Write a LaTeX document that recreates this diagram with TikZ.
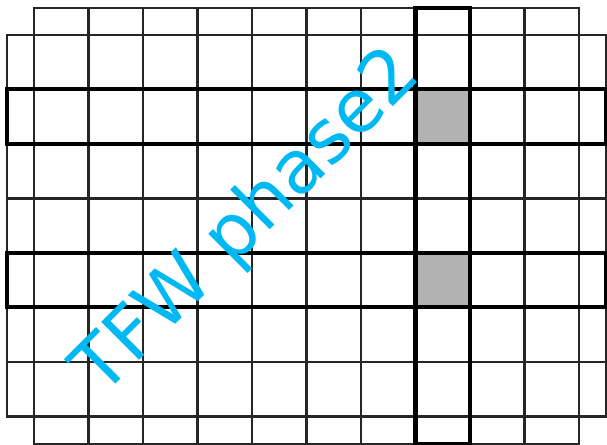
\documentclass[tikz,border=0pt]{standalone}
\usepackage{fontspec}
\setmainfont{DejaVu Sans}
\definecolor{celeste}{HTML}{00B9F2}
\begin{document}
\begin{tikzpicture}[line join=miter,
  fino/.style={draw=black!85,line width=1.1pt},
  grueso/.style={draw=black,line width=2.1pt},
  marca/.style={fill=black!30,draw=none},
  sello/.style={text=celeste,font=\fontsize{38.5}{42}\selectfont,inner sep=0pt,rotate=45,anchor=base west}]
\useasboundingbox (-0.624,-0.523) rectangle (10.514,7.642);
% celdas marcadas
\fill[marca] (7,5) rectangle (8,6);
\fill[marca] (7,2) rectangle (8,3);
% rejilla fina
\draw[fino] (0,-0.5) rectangle (10,7.5);
\draw[fino] (-0.5,0) rectangle (10.5,7);
\foreach \x in {1,...,9} \draw[fino] (\x,-0.5) -- (\x,7.5);
\foreach \y in {1,...,6} \draw[fino] (-0.5,\y) -- (10.5,\y);
% columna y filas activas
\draw[grueso] (7,-0.5) rectangle (8,7.5);
\draw[grueso] (-0.5,5) rectangle (10.5,6);
\draw[grueso] (-0.5,2) rectangle (10.5,3);
\node[sello] (tfw) at (1.25,0.34) {TFW phase2};
\end{tikzpicture}
\end{document}
